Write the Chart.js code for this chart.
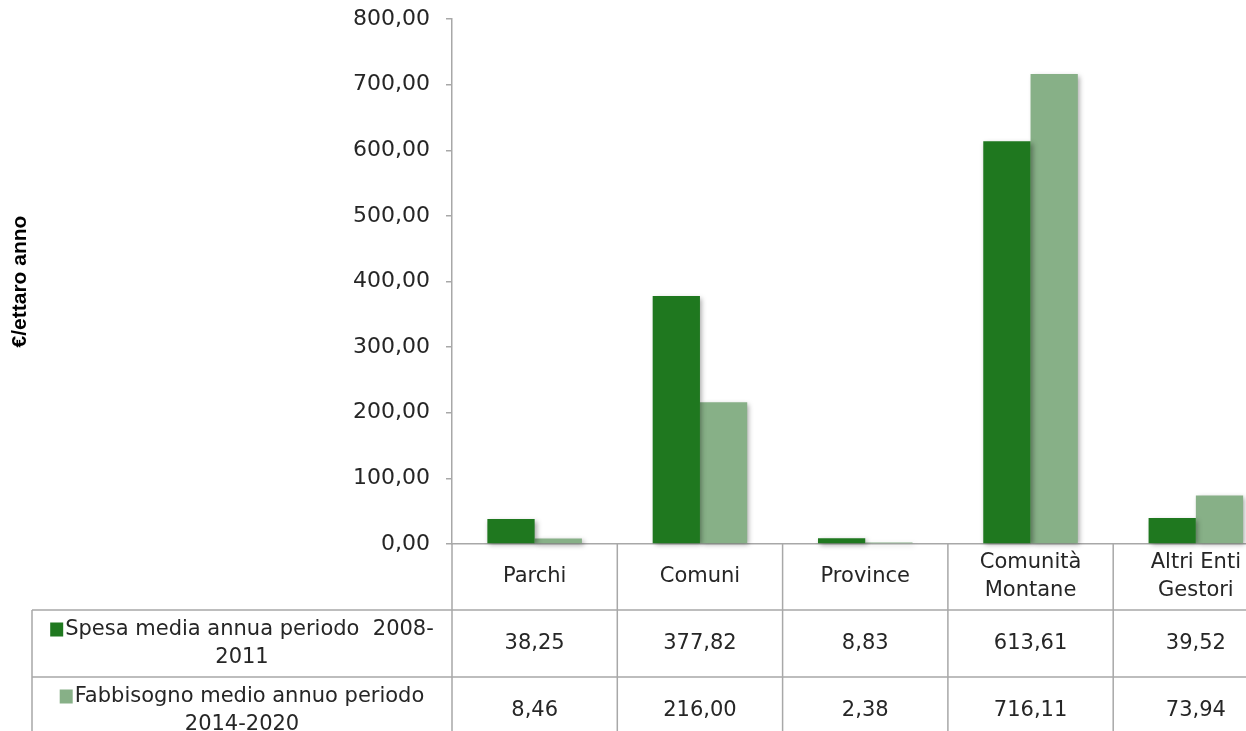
<!DOCTYPE html>
<html>
<head>
<meta charset="utf-8">
<script src="https://cdn.jsdelivr.net/npm/chart.js@4"></script>
<style>
  html, body { margin: 0; padding: 0; background: #fff; overflow: hidden; }
  canvas { display: block; }
</style>
</head>
<body>
<canvas id="chart" width="1290" height="760"></canvas>
<script>
// categories (multi-line as in the table header)
const categories = [['Parchi'], ['Comuni'], ['Province'], ['Comunità', 'Montane'], ['Altri Enti', 'Gestori']];
const spesa = [38.25, 377.82, 8.83, 613.61, 39.52];
const fabbisogno = [8.46, 216.00, 2.38, 716.11, 73.94];
const seriesNames = [['Spesa media annua periodo  2008-', '2011'], ['Fabbisogno medio annuo periodo', '2014-2020']];
const seriesColors = ['#1F781F', '#87B087'];
const yTitle = '€/ettaro anno';

const lineColor = '#A8A8A8';
const textColor = '#262626';
const fmt = v => v.toFixed(2).replace('.', ',');

// bar shadow like the original
const barShadow = {
  id: 'barShadow',
  beforeDatasetsDraw(chart) {
    const ctx = chart.ctx;
    ctx.save();
    ctx.shadowColor = 'rgba(0,0,0,0.35)';
    ctx.shadowBlur = 5;
    ctx.shadowOffsetX = 2;
    ctx.shadowOffsetY = 2;
  },
  afterDatasetsDraw(chart) {
    chart.ctx.restore();
  }
};

// data table under the plot, columns taken from the x scale
const dataTable = {
  id: 'dataTable',
  afterDraw(chart) {
    const ctx = chart.ctx;
    const xs = chart.scales.x;
    const area = chart.chartArea;
    const n = categories.length;
    const colW = (area.right - area.left) / n;
    const headTop = area.bottom;
    const headH = 66;
    const rowH = 67;
    const rowTop = headTop + headH;
    const tableLeft = 32;
    const bottom = chart.height;

    ctx.save();
    ctx.strokeStyle = lineColor;
    ctx.lineWidth = 1.5;
    ctx.beginPath();
    for (let i = 0; i <= n; i++) {
      const bx = i < n ? xs.getPixelForValue(i) - colW / 2 : xs.getPixelForValue(n - 1) + colW / 2;
      ctx.moveTo(bx, headTop);
      ctx.lineTo(bx, bottom);
    }
    ctx.moveTo(tableLeft, rowTop);
    ctx.lineTo(tableLeft, bottom);
    for (let r = 0; r <= seriesNames.length; r++) {
      const y = rowTop + r * rowH;
      ctx.moveTo(tableLeft, y);
      ctx.lineTo(area.right, y);
    }
    ctx.stroke();

    ctx.fillStyle = textColor;
    ctx.font = '21px "DejaVu Sans"';
    ctx.textAlign = 'center';
    ctx.textBaseline = 'middle';

    // header
    categories.forEach((lines, i) => {
      const cx = xs.getPixelForValue(i);
      const cy = headTop + headH / 2;
      lines.forEach((t, k) => {
        ctx.fillText(t, cx, cy + (k - (lines.length - 1) / 2) * 28);
      });
    });

    // rows
    const series = [spesa, fabbisogno];
    series.forEach((vals, r) => {
      const cy = rowTop + r * rowH + rowH / 2;
      vals.forEach((v, i) => {
        ctx.fillText(fmt(v), xs.getPixelForValue(i), cy);
      });
      // legend cell
      const cx = (tableLeft + area.left) / 2;
      const lines = seriesNames[r];
      lines.forEach((t, k) => {
        const ly = cy + (k - (lines.length - 1) / 2) * 28;
        if (k === 0) {
          const sq = 13;
          const w = ctx.measureText(t).width;
          const start = cx - (sq + 2 + w) / 2;
          ctx.fillStyle = seriesColors[r];
          ctx.fillRect(start, ly - 7, sq, 14);
          ctx.fillStyle = textColor;
          ctx.textAlign = 'left';
          ctx.fillText(t, start + sq + 2, ly);
          ctx.textAlign = 'center';
        } else {
          ctx.fillText(t, cx, ly);
        }
      });
    });
    ctx.restore();
  }
};

new Chart(document.getElementById('chart'), {
  type: 'bar',
  data: {
    labels: categories,
    datasets: [
      { label: seriesNames[0].join(''), data: spesa, backgroundColor: seriesColors[0], clip: false },
      { label: seriesNames[1].join(''), data: fabbisogno, backgroundColor: seriesColors[1], clip: false }
    ]
  },
  options: {
    responsive: false,
    animation: false,
    datasets: {
      bar: { categoryPercentage: 0.572, barPercentage: 1 }
    },
    layout: {
      padding: { top: 19, right: 11.5, bottom: 216, left: 0 }
    },
    plugins: {
      legend: { display: false },
      tooltip: { enabled: false }
    },
    scales: {
      x: {
        offset: true,
        ticks: { display: false },
        grid: { display: false, drawTicks: false },
        border: { display: true, color: lineColor, width: 1.5 }
      },
      y: {
        min: 0,
        max: 800,
        ticks: {
          stepSize: 100,
          padding: 16,
          color: textColor,
          font: { family: 'DejaVu Sans', size: 22 },
          callback: v => fmt(v)
        },
        grid: { display: true, drawOnChartArea: false, drawTicks: true, tickLength: 6, color: lineColor, lineWidth: 1.5 },
        border: { display: true, color: lineColor, width: 1.5 },
        title: {
          display: true,
          text: yTitle,
          color: '#000',
          font: { family: 'Liberation Sans', size: 21, weight: 'bold' },
          padding: { top: 8, bottom: 0 }
        },
        afterFit(scale) {
          scale.width = 452;
          scale.paddingTop = 0;
          scale.paddingBottom = 0;
        }
      }
    }
  },
  plugins: [barShadow, dataTable]
});
</script>
</body>
</html>
